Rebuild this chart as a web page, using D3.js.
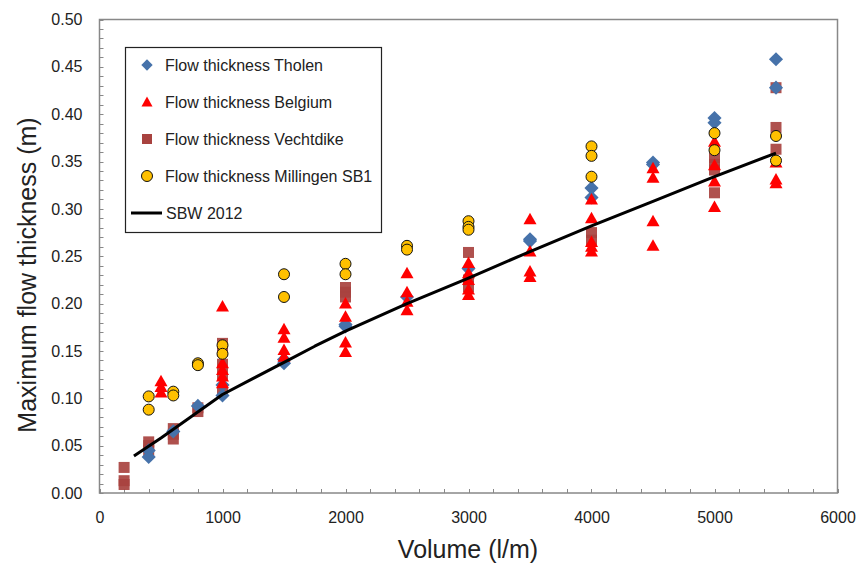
<!DOCTYPE html>
<html>
<head>
<meta charset="utf-8">
<script src="https://cdn.jsdelivr.net/npm/d3@7"></script>
<style>
  html, body { margin: 0; padding: 0; background: #fff; }
  svg { display: block; font-family: "Liberation Sans", Arial, sans-serif; }
</style>
</head>
<body>
<svg id="chart" width="858" height="563"></svg>
<script>
// Measured flow thickness (m) against overtopping volume (l/m), per test site
const tholenVolume = [400, 400, 600, 800, 1000, 1000, 1500, 1500, 2000, 2000, 2500, 3000, 3500, 3500, 4000, 4000, 4500, 4500, 5000, 5000, 5500, 5500];
const tholenThickness = [0.038, 0.045, 0.065, 0.092, 0.114, 0.103, 0.137, 0.141, 0.176, 0.178, 0.207, 0.237, 0.266, 0.268, 0.322, 0.312, 0.349, 0.347, 0.396, 0.391, 0.458, 0.428];

const belgiumVolume = [500, 500, 500, 1000, 1000, 1000, 1000, 1000, 1500, 1500, 1500, 1500, 2000, 2000, 2000, 2000, 2500, 2500, 2500, 2500, 3000, 3000, 3000, 3000, 3000, 3500, 3500, 3500, 3500, 4000, 4000, 4000, 4000, 4000, 4500, 4500, 4500, 4500, 5000, 5000, 5000, 5000, 5500, 5500, 5500];
const belgiumThickness = [0.118, 0.112, 0.106, 0.197, 0.137, 0.130, 0.123, 0.116, 0.173, 0.164, 0.151, 0.144, 0.200, 0.186, 0.159, 0.149, 0.232, 0.212, 0.202, 0.193, 0.243, 0.232, 0.225, 0.215, 0.209, 0.289, 0.255, 0.234, 0.228, 0.310, 0.290, 0.265, 0.260, 0.255, 0.343, 0.333, 0.287, 0.261, 0.371, 0.346, 0.329, 0.302, 0.349, 0.331, 0.327];

const vechtdikeVolume = [200, 200, 200, 400, 400, 400, 600, 600, 600, 800, 800, 1000, 1000, 1000, 1000, 1000, 2000, 2000, 2000, 3000, 3000, 3000, 4000, 4000, 5000, 5000, 5000, 5000, 5500, 5500, 5500];
const vechtdikeThickness = [0.027, 0.013, 0.009, 0.054, 0.050, 0.045, 0.068, 0.062, 0.057, 0.090, 0.086, 0.158, 0.150, 0.136, 0.125, 0.110, 0.217, 0.212, 0.207, 0.254, 0.225, 0.218, 0.275, 0.267, 0.354, 0.347, 0.341, 0.317, 0.428, 0.386, 0.363];

const millingenVolume = [400, 400, 600, 600, 800, 800, 1000, 1000, 1500, 1500, 2000, 2000, 2500, 2500, 3000, 3000, 3000, 4000, 4000, 4000, 5000, 5000, 5500, 5500];
const millingenThickness = [0.102, 0.088, 0.107, 0.103, 0.137, 0.135, 0.156, 0.147, 0.231, 0.207, 0.242, 0.231, 0.261, 0.257, 0.287, 0.281, 0.278, 0.366, 0.356, 0.334, 0.380, 0.362, 0.377, 0.351];

// SBW 2012 design relation
const sbwVolume = [280, 500, 750, 1000, 1250, 1500, 1750, 2000, 2500, 3000, 3500, 4000, 4500, 5000, 5500];
const sbwThickness = [0.039, 0.058, 0.081, 0.104, 0.121, 0.138, 0.155, 0.171, 0.200, 0.227, 0.255, 0.282, 0.308, 0.334, 0.359];

const xTicks = [0, 1000, 2000, 3000, 4000, 5000, 6000];
const yTicks = [0, 0.05, 0.10, 0.15, 0.20, 0.25, 0.30, 0.35, 0.40, 0.45, 0.50];

const legendLabels = ["Flow thickness Tholen", "Flow thickness Belgium", "Flow thickness Vechtdike", "Flow thickness Millingen SB1", "SBW 2012"];

const svg = d3.select("#chart");
const plotLeft = 99.5, plotRight = 837.5, plotTop = 19.5, plotBottom = 493;

const x = d3.scaleLinear().domain([0, 6000]).range([plotLeft, plotRight]);
const y = d3.scaleLinear().domain([0, 0.5]).range([plotBottom, plotTop]);

const axisColor = "#888";

// plot frame
svg.append("rect")
  .attr("x", plotLeft).attr("y", plotTop)
  .attr("width", plotRight - plotLeft).attr("height", plotBottom - plotTop)
  .attr("fill", "none").attr("stroke", axisColor).attr("stroke-width", 1.5);

// inward ticks
const yMinor = d3.range(0, 0.5001, 0.01);
const xMinor = d3.range(0, 6001, 200);
svg.append("g").selectAll("line").data(yMinor).join("line")
  .attr("x1", plotLeft).attr("x2", plotLeft + 4)
  .attr("y1", d => Math.round(y(d)) + 0.5).attr("y2", d => Math.round(y(d)) + 0.5)
  .attr("stroke", axisColor).attr("stroke-width", 1);
svg.append("g").selectAll("line").data(xMinor).join("line")
  .attr("y1", plotBottom).attr("y2", plotBottom - 4)
  .attr("x1", d => Math.round(x(d)) + 0.5).attr("x2", d => Math.round(x(d)) + 0.5)
  .attr("stroke", axisColor).attr("stroke-width", 1);

// tick labels via d3 axes
const yAxis = d3.axisLeft(y).tickValues(yTicks).tickFormat(d3.format(".2f")).tickSize(0).tickPadding(17);
const gy = svg.append("g").attr("transform", `translate(${plotLeft},0)`).call(yAxis);
gy.select(".domain").remove();
gy.selectAll("text").attr("font-size", 16).attr("fill", "#222").attr("font-family", "Liberation Sans, Arial, sans-serif");

const xAxis = d3.axisBottom(x).tickValues(xTicks).tickFormat(d3.format("d")).tickSize(0).tickPadding(19);
const gx = svg.append("g").attr("transform", `translate(0,${plotBottom})`).call(xAxis);
gx.select(".domain").remove();
gx.selectAll("text").attr("font-size", 16).attr("fill", "#222").attr("font-family", "Liberation Sans, Arial, sans-serif");

// axis titles
svg.append("text")
  .attr("x", 468).attr("y", 558)
  .attr("text-anchor", "middle")
  .attr("font-size", 25).attr("fill", "#222")
  .text("Volume (l/m)");
svg.append("text")
  .attr("transform", "translate(36,275) rotate(-90)")
  .attr("text-anchor", "middle")
  .attr("font-size", 25).attr("fill", "#222")
  .text("Maximum flow thickness (m)");

// marker styles
const colors = { tholen: "#4672AA", belgium: "#FF0000", vechtdike: "#A8423F", millingen: "#FFC000" };
const diamond = d3.symbol().type(d3.symbolSquare).size(100)();
const triangle = "M0,-6.5L6.5,5L-6.5,5Z";
const square = "M-5.5,-5.5H5.5V5.5H-5.5Z";

function pairs(xs, ys) { return xs.map((v, i) => [v, ys[i]]); }

const plot = svg.append("g");

plot.append("g").selectAll("path").data(pairs(vechtdikeVolume, vechtdikeThickness)).join("path")
  .attr("d", square)
  .attr("transform", d => `translate(${x(d[0])},${y(d[1])})`)
  .attr("fill", colors.vechtdike).attr("opacity", 0.92);

plot.append("g").selectAll("path").data(pairs(tholenVolume, tholenThickness)).join("path")
  .attr("d", diamond)
  .attr("transform", d => `translate(${x(d[0])},${y(d[1])}) rotate(45)`)
  .attr("fill", colors.tholen);

plot.append("g").selectAll("path").data(pairs(belgiumVolume, belgiumThickness)).join("path")
  .attr("d", triangle)
  .attr("transform", d => `translate(${x(d[0])},${y(d[1])})`)
  .attr("fill", colors.belgium);

plot.append("g").selectAll("circle").data(pairs(millingenVolume, millingenThickness)).join("circle")
  .attr("cx", d => x(d[0])).attr("cy", d => y(d[1])).attr("r", 5.5)
  .attr("fill", colors.millingen).attr("stroke", "#111").attr("stroke-width", 1);

const line = d3.line().x(d => x(d[0])).y(d => y(d[1]));
plot.append("path")
  .datum(pairs(sbwVolume, sbwThickness))
  .attr("d", line)
  .attr("fill", "none").attr("stroke", "#000").attr("stroke-width", 3)
  .attr("stroke-linejoin", "round");

// legend
const lg = svg.append("g");
lg.append("rect").attr("x", 125.5).attr("y", 47.5).attr("width", 256).attr("height", 185)
  .attr("fill", "#fff").attr("stroke", "#222").attr("stroke-width", 1.2);
const rowY = [65, 102, 139, 176, 213];
const mx = 147;
lg.append("path").attr("d", d3.symbol().type(d3.symbolSquare).size(64)())
  .attr("transform", `translate(${mx},${rowY[0]}) rotate(45)`).attr("fill", colors.tholen);
lg.append("path").attr("d", "M0,-5.5L5.5,4.5L-5.5,4.5Z")
  .attr("transform", `translate(${mx},${rowY[1]})`).attr("fill", colors.belgium);
lg.append("path").attr("d", "M-5,-5H5V5H-5Z")
  .attr("transform", `translate(${mx},${rowY[2]})`).attr("fill", colors.vechtdike);
lg.append("circle").attr("cx", mx).attr("cy", rowY[3]).attr("r", 5.5)
  .attr("fill", colors.millingen).attr("stroke", "#111").attr("stroke-width", 1);
lg.append("line").attr("x1", 131).attr("x2", 162).attr("y1", rowY[4]).attr("y2", rowY[4])
  .attr("stroke", "#000").attr("stroke-width", 3);
lg.selectAll("text.lbl").data(legendLabels).join("text")
  .attr("class", "lbl")
  .attr("x", (d, i) => i === 4 ? 166 : 165)
  .attr("y", (d, i) => rowY[i] + 5.5)
  .attr("font-size", 16).attr("fill", "#222")
  .text(d => d);
</script>
</body>
</html>
